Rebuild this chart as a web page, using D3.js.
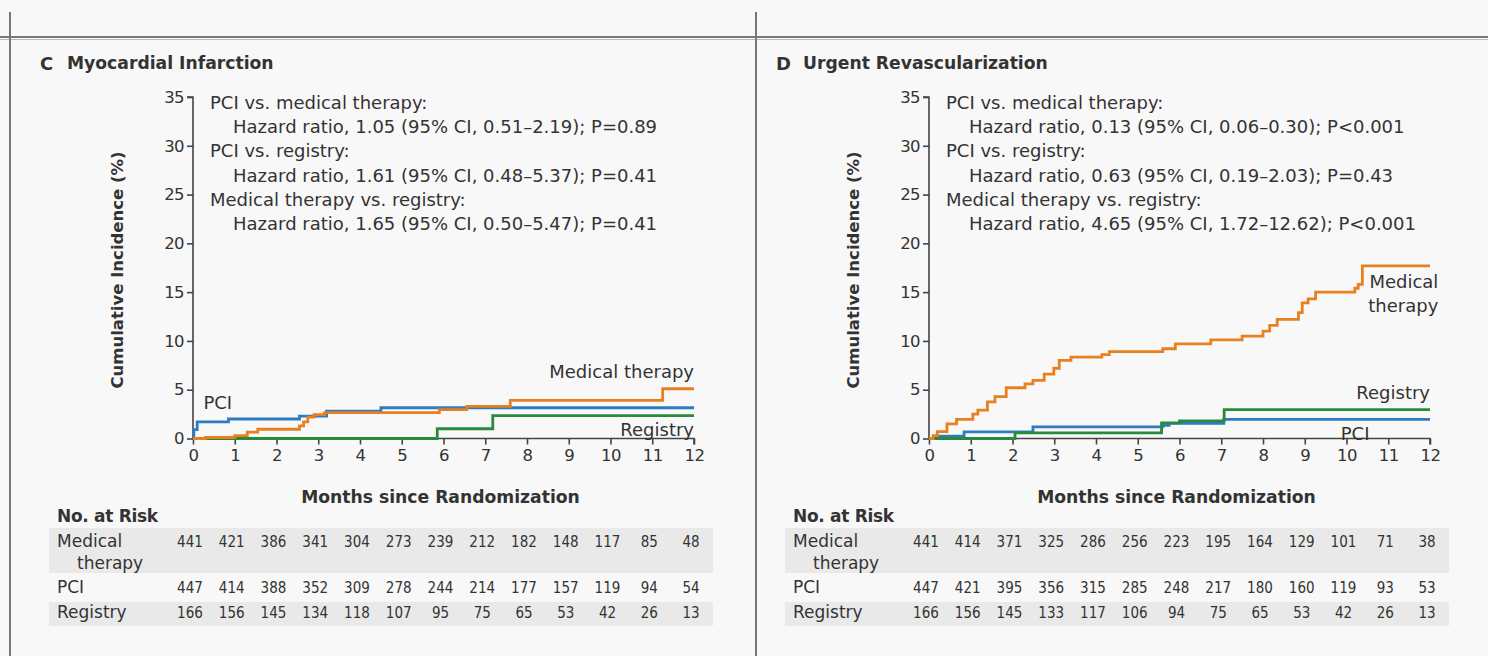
<!DOCTYPE html>
<html>
<head>
<meta charset="utf-8">
<script src="https://cdn.jsdelivr.net/npm/d3@7"></script>
<style>
  body { margin: 0; background: #f8f8f8; }
  svg { display: block; font-family: "DejaVu Sans", sans-serif; }
  .cond { font-family: "DejaVu Sans Condensed", "DejaVu Sans", sans-serif; font-stretch: condensed; }
</style>
</head>
<body>
<div id="chart"></div>
<script>
var width = 1488;
var height = 656;

var months = [0, 1, 2, 3, 4, 5, 6, 7, 8, 9, 10, 11, 12];
var yTicks = [0, 5, 10, 15, 20, 25, 30, 35];

// step curves, [month, cumulative incidence %] at each change
var miMedical = [[0, 0], [0.3, 0.1], [1.0, 0.3], [1.3, 0.65], [1.55, 0.95], [2.55, 1.3], [2.65, 1.7], [2.75, 2.2], [2.9, 2.45], [3.15, 2.65], [5.9, 2.95], [6.56, 3.3], [7.6, 3.9], [11.25, 5.1], [12, 5.1]];
var miPci = [[0, 0], [0.02, 0.9], [0.1, 1.7], [0.85, 2.0], [2.55, 2.3], [3.2, 2.8], [4.5, 3.15], [12, 3.15]];
var miRegistry = [[0, 0], [5.85, 1.0], [7.18, 2.35], [12, 2.35]];

var revMedical = [[0, 0], [0.1, 0.3], [0.2, 0.7], [0.43, 1.5], [0.66, 1.95], [1.05, 2.5], [1.17, 2.9], [1.4, 3.75], [1.58, 4.3], [1.85, 5.2], [2.3, 5.6], [2.49, 5.95], [2.76, 6.6], [2.99, 7.2], [3.12, 8.0], [3.4, 8.35], [4.14, 8.6], [4.32, 8.9], [5.6, 9.2], [5.9, 9.7], [6.75, 10.1], [7.5, 10.5], [8.0, 11.0], [8.16, 11.6], [8.34, 12.2], [8.85, 12.9], [8.94, 13.9], [9.08, 14.3], [9.26, 15.0], [10.2, 15.4], [10.28, 15.8], [10.38, 17.7], [12, 17.7]];
var revPci = [[0, 0], [0.2, 0.25], [0.84, 0.68], [2.49, 1.2], [5.6, 1.35], [5.75, 1.55], [7.06, 1.95], [12, 1.95]];
var revRegistry = [[0, 0], [2.06, 0.58], [5.57, 1.6], [6.0, 1.8], [7.07, 2.95], [12, 2.95]];

// numbers at risk
var miRiskMedical = [441, 421, 386, 341, 304, 273, 239, 212, 182, 148, 117, 85, 48];
var miRiskPci = [447, 414, 388, 352, 309, 278, 244, 214, 177, 157, 119, 94, 54];
var miRiskRegistry = [166, 156, 145, 134, 118, 107, 95, 75, 65, 53, 42, 26, 13];
var revRiskMedical = [441, 414, 371, 325, 286, 256, 223, 195, 164, 129, 101, 71, 38];
var revRiskPci = [447, 421, 395, 356, 315, 285, 248, 217, 180, 160, 119, 93, 53];
var revRiskRegistry = [166, 156, 145, 133, 117, 106, 94, 75, 65, 53, 42, 26, 13];

var miStats = [
  "PCI vs. medical therapy:",
  "Hazard ratio, 1.05 (95% CI, 0.51\u20132.19); P=0.89",
  "PCI vs. registry:",
  "Hazard ratio, 1.61 (95% CI, 0.48\u20135.37); P=0.41",
  "Medical therapy vs. registry:",
  "Hazard ratio, 1.65 (95% CI, 0.50\u20135.47); P=0.41"
];
var revStats = [
  "PCI vs. medical therapy:",
  "Hazard ratio, 0.13 (95% CI, 0.06\u20130.30); P<0.001",
  "PCI vs. registry:",
  "Hazard ratio, 0.63 (95% CI, 0.19\u20132.03); P=0.43",
  "Medical therapy vs. registry:",
  "Hazard ratio, 4.65 (95% CI, 1.72\u201312.62); P<0.001"
];

var colors = { "Medical therapy": "#e8801f", "PCI": "#2f7bbf", "Registry": "#2a8a3c" };
var textColor = "#333";

var svg = d3.select("#chart").append("svg")
  .attr("width", width)
  .attr("height", height);

// frame lines
svg.append("line").attr("x1", 0).attr("x2", width).attr("y1", 37).attr("y2", 37)
  .attr("stroke", "#777").attr("stroke-width", 2);
svg.append("line").attr("x1", 0).attr("x2", width).attr("y1", 39.5).attr("y2", 39.5)
  .attr("stroke", "#bbb").attr("stroke-width", 1);
[10, 756].forEach(function(x) {
  svg.append("line").attr("x1", x).attr("x2", x).attr("y1", 12).attr("y2", height)
    .attr("stroke", "#777").attr("stroke-width", 2);
});

function panel(opt) {
  var x = d3.scaleLinear().domain([0, 12]).range([opt.left, opt.left + 501]);
  var y = d3.scaleLinear().domain([0, 35]).range([438.5, 97]);
  var g = svg.append("g").attr("fill", textColor);

  // title
  g.append("text").attr("x", opt.left - 153).attr("y", 70)
    .attr("font-size", 18).attr("font-weight", 700).text(opt.letter);
  g.append("text").attr("x", opt.left - 126).attr("y", 69)
    .attr("font-size", 17.2).attr("font-weight", 700).text(opt.title);

  // y axis
  var ya = g.append("g").attr("transform", "translate(" + opt.left + ",0)")
    .call(d3.axisLeft(y).tickValues(yTicks).tickSize(6).tickPadding(3));
  ya.select(".domain").attr("stroke", "#444").attr("stroke-width", 1.6).attr("d", "M-6," + y(35) + "H0V" + y(0));
  ya.selectAll(".tick line").attr("stroke", "#444").attr("stroke-width", 1.6);
  ya.selectAll("text").attr("fill", textColor).attr("font-size", 16.5)
    .attr("font-family", "DejaVu Sans").attr("letter-spacing", -0.6);

  // x axis
  var xa = g.append("g").attr("transform", "translate(0," + y(0) + ")")
    .call(d3.axisBottom(x).tickValues(months).tickSize(6).tickPadding(5));
  xa.select(".domain").attr("stroke", "#444").attr("stroke-width", 1.6).attr("d", "M" + x(0) + ",0H" + x(12) + "V6");
  xa.selectAll(".tick line").attr("stroke", "#444").attr("stroke-width", 1.6);
  xa.selectAll("text").attr("fill", textColor).attr("font-size", 16.5)
    .attr("font-family", "DejaVu Sans").attr("letter-spacing", -0.6);

  g.append("text")
    .attr("transform", "translate(" + (opt.left - 70) + "," + 270 + ") rotate(-90)")
    .attr("text-anchor", "middle").attr("font-size", 16.5).attr("font-weight", 700)
    .text("Cumulative Incidence (%)");

  g.append("text").attr("x", x(6) - 3).attr("y", 503)
    .attr("text-anchor", "middle").attr("font-size", 17.2).attr("font-weight", 700)
    .text("Months since Randomization");

  // hazard ratio block
  opt.stats.forEach(function(s, i) {
    g.append("text")
      .attr("x", opt.left + (i % 2 ? 40 : 17))
      .attr("y", 109 + i * 24.2)
      .attr("font-size", 18)
      .text(s);
  });

  // curves
  var line = d3.line()
    .x(function(d) { return x(d[0]); })
    .y(function(d) { return y(d[1]); })
    .curve(d3.curveStepAfter);
  opt.series.forEach(function(s) {
    svg.append("path")
      .datum(s.values)
      .attr("fill", "none")
      .attr("stroke", colors[s.name])
      .attr("stroke-width", 2.8)
      .attr("d", line);
  });

  // curve labels
  opt.labels.forEach(function(l) {
    g.append("text")
      .attr("x", x(l.at[0])).attr("y", y(l.at[1]))
      .attr("text-anchor", l.anchor)
      .attr("font-size", 18)
      .text(l.text);
  });

  // numbers at risk
  var tx = opt.left - 136;
  g.append("rect").attr("x", tx - 8).attr("y", 528).attr("width", 664).attr("height", 45).attr("fill", "#e9e9e9");
  g.append("rect").attr("x", tx - 8).attr("y", 602).attr("width", 664).attr("height", 24).attr("fill", "#e9e9e9");
  g.append("text").attr("x", tx).attr("y", 522)
    .attr("font-size", 17).attr("font-weight", 700).attr("letter-spacing", -0.3).text("No. at Risk");

  var rows = [
    { label: ["Medical", "therapy"], values: opt.risk[0], y: 547 },
    { label: ["PCI"], values: opt.risk[1], y: 593 },
    { label: ["Registry"], values: opt.risk[2], y: 618 }
  ];
  rows.forEach(function(r) {
    r.label.forEach(function(lb, j) {
      g.append("text").attr("x", tx + (j ? 20 : 0)).attr("y", r.y + j * 22)
        .attr("font-size", 17).text(lb);
    });
    g.selectAll(null).data(r.values).join("text")
      .attr("class", "cond")
      .attr("x", function(d, i) { return x(months[i]) - 3; })
      .attr("y", r.y)
      .attr("text-anchor", "middle")
      .attr("font-size", 15)
      .text(function(d) { return d; });
  });
}

panel({
  left: 193,
  letter: "C",
  title: "Myocardial Infarction",
  stats: miStats,
  series: [
    { name: "Registry", values: miRegistry },
    { name: "PCI", values: miPci },
    { name: "Medical therapy", values: miMedical }
  ],
  labels: [
    { text: "PCI", at: [0.25, 3.0], anchor: "start" },
    { text: "Medical therapy", at: [12.0, 6.2], anchor: "end" },
    { text: "Registry", at: [12.0, 0.25], anchor: "end" }
  ],
  risk: [miRiskMedical, miRiskPci, miRiskRegistry]
});

panel({
  left: 929,
  letter: "D",
  title: "Urgent Revascularization",
  stats: revStats,
  series: [
    { name: "PCI", values: revPci },
    { name: "Registry", values: revRegistry },
    { name: "Medical therapy", values: revMedical }
  ],
  labels: [
    { text: "Medical", at: [12.2, 15.4], anchor: "end" },
    { text: "therapy", at: [12.2, 13.0], anchor: "end" },
    { text: "Registry", at: [12.0, 4.0], anchor: "end" },
    { text: "PCI", at: [10.55, -0.2], anchor: "end" }
  ],
  risk: [revRiskMedical, revRiskPci, revRiskRegistry]
});
</script>
</body>
</html>
